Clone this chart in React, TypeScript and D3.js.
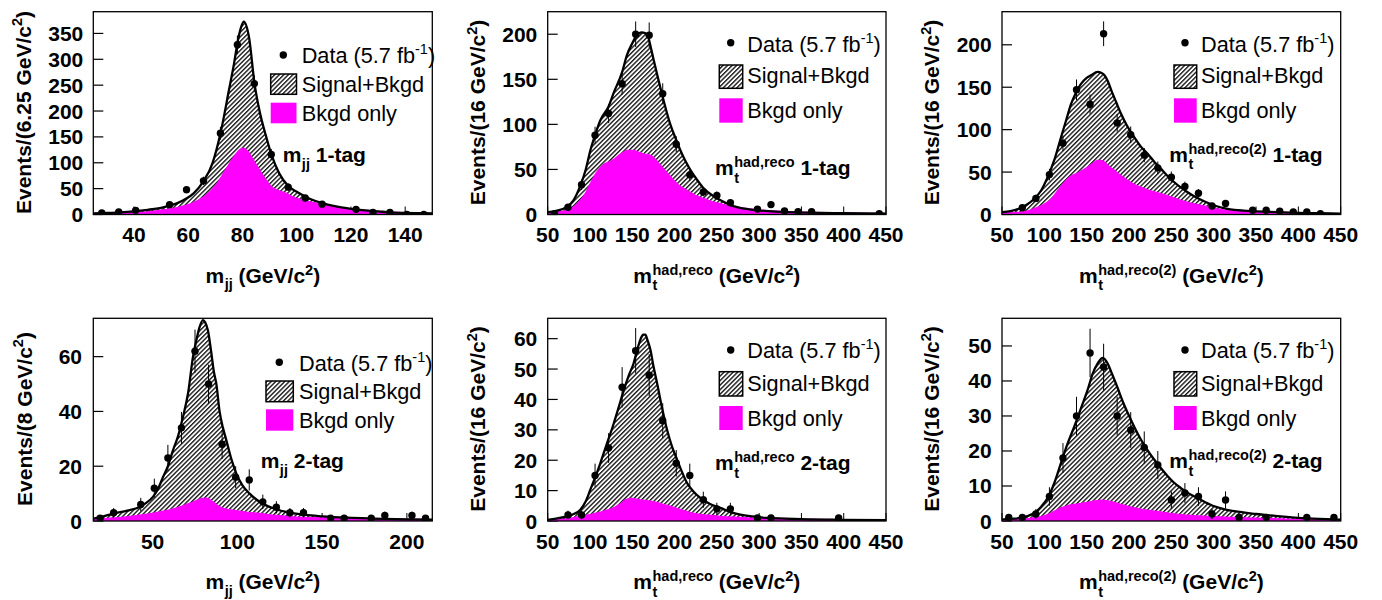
import React from 'react';
import * as d3 from 'd3';

const FONT = '"Liberation Sans", Arial, Helvetica, sans-serif';
const MAGENTA = '#ff00ff';

// ---------------- data: m_jj 1-tag ----------------
const mjj1BinCenters = [28.125, 34.375, 40.625, 53.125, 59.375, 65.625, 71.875, 78.125, 84.375, 90.625, 96.875, 103.125, 109.375, 121.875, 128.125, 134.375, 140.625, 146.875];
const mjj1Counts = [3, 5, 8, 19, 48, 65, 157, 328, 253, 116, 53, 32, 20, 10, 4, 4, 0, 0];
const mjj1FitTotal: [number, number][] = [[25, 2], [30, 3], [35, 4], [40, 6], [45, 9], [50, 13], [53, 17], [56, 22], [59, 30], [62, 41], [65.6, 64], [69, 100], [71.9, 157], [75, 240], [77, 295], [78.1, 330], [79.5, 362], [80.5, 373], [82.5, 340], [84.4, 255], [86.3, 200], [88.5, 155], [90.6, 117], [93.5, 80], [96.9, 55], [100, 44], [105, 30], [110, 21], [115, 15], [120, 11], [125, 8], [130, 6], [135, 4], [140, 3], [145, 2.5], [150, 2]];
const mjj1FitBkgd: [number, number][] = [[25, 1.5], [30, 2], [35, 2.5], [40, 3.5], [45, 5], [50, 8], [55, 12], [60, 19], [64, 28], [68, 44], [71, 62], [74, 88], [77, 112], [79, 125], [80.3, 128], [82, 122], [84, 105], [86, 88], [88.5, 68], [91, 52], [96, 41], [99, 33], [105, 24], [110, 18], [115, 13], [120, 10], [130, 6], [140, 3.5], [150, 2]];

// ---------------- data: m_t^{had,reco} 1-tag ----------------
const reco1BinCenters = [58, 74, 90, 106, 122, 138, 154, 170, 186, 202, 218, 234, 250, 266, 298, 314, 330, 346, 362, 442];
const reco1Counts = [1, 8, 33, 88, 112, 145, 200, 199, 134, 78, 44, 25, 21, 13, 6, 11, 4, 3, 3, 1];
const reco1FitTotal: [number, number][] = [[50, 2.5], [60, 4], [72, 8], [80, 15], [88.6, 32], [95, 50], [100.4, 71], [106, 88], [112, 104], [122, 120], [128, 135], [138, 158], [143.8, 177], [150, 190], [154, 197], [161.5, 202], [167.5, 200], [172, 185], [175.4, 171], [180, 153], [185, 134], [190, 116], [195, 100], [201, 85], [207, 71], [213, 59], [219, 49], [227, 38], [235, 28.5], [245, 21], [255, 15.5], [265, 11], [275, 8], [288, 5.8], [302, 4.4], [320, 3.2], [334, 2.6], [360, 2], [400, 1.5], [450, 1]];
const reco1FitBkgd: [number, number][] = [[50, 1.5], [60, 2.5], [72.9, 4.4], [80, 8], [88.6, 15.5], [95, 24], [100.4, 34], [106, 44], [112.2, 52], [117, 56], [122, 58], [128, 61], [132, 64], [138, 68], [143.8, 71], [151.7, 71], [157, 69], [163.5, 67], [170, 66], [175.4, 63], [181, 57], [187, 50.6], [193, 44], [199, 37.7], [207, 31], [215, 26.6], [225, 21], [235, 17.4], [245, 14], [255, 11.8], [270, 8.5], [286.5, 6.3], [305, 4.5], [326, 3.3], [350, 2.5], [400, 1.5], [450, 1]];

// ---------------- data: m_t^{had,reco(2)} 1-tag ----------------
const reco2a1BinCenters = [74, 90, 106, 122, 138, 154, 170, 186, 202, 218, 234, 250, 266, 282, 298, 314, 346, 362, 378, 394, 410, 426];
const reco2a1Counts = [8, 19, 47, 84, 147, 130, 213, 108, 94, 70, 55, 44, 33, 25, 10, 13, 5, 5, 4, 3, 3, 1];
const reco2a1FitTotal: [number, number][] = [[50, 2.7], [60, 4], [72.4, 7.9], [80, 12], [88.2, 18.5], [96, 28], [103.9, 44], [112, 65], [119.7, 91], [126, 112], [131.5, 130], [137, 143], [143.3, 154], [150, 161], [155, 164], [163, 168], [167, 167], [171, 164], [175, 157], [179, 146.6], [185, 132], [190.6, 118.7], [198, 104], [206.3, 91], [214, 80], [222, 71.5], [230, 62], [237.8, 53.8], [245, 46], [253.5, 38], [261, 32], [269.3, 26.3], [277, 21.5], [285, 17.3], [295, 13], [304.7, 9.4], [315, 7], [324.4, 5.5], [335, 4.6], [350, 3.8], [375, 2.8], [400, 2], [425, 1.5], [450, 1]];
const reco2a1FitBkgd: [number, number][] = [[50, 1.5], [60, 2], [72.4, 2.7], [80, 4], [88.2, 6.7], [96, 10], [103.9, 14.5], [110, 20], [115.7, 28], [122, 36], [127.6, 42], [133, 46], [139.4, 48.7], [145, 52], [151.2, 55.8], [157, 60], [163, 63.7], [167, 63.5], [171, 61.7], [176, 57], [182.7, 51.9], [190, 46], [198.5, 40], [206, 35.5], [214.3, 32], [225, 28], [237.8, 24.4], [250, 20.5], [261.4, 16.5], [273, 13.3], [285, 10.6], [300, 7.5], [316.5, 4.7], [335, 3.5], [350, 3], [375, 2.2], [400, 1.5], [450, 1]];

// ---------------- data: m_jj 2-tag ----------------
const mjj2BinCenters = [19, 27, 43, 51, 59, 67, 75, 83, 91, 99, 107, 115, 123, 131, 139, 155, 163, 179, 187, 203, 211];
const mjj2Counts = [1, 3, 6, 12, 23, 34, 62, 50, 28, 16, 15, 7, 5, 3, 3, 1, 1, 1, 2, 2, 1];
const mjj2FitTotal: [number, number][] = [[15, 0.85], [20, 1.5], [26.6, 2.7], [35, 3.8], [42.3, 5.1], [46, 6.5], [50.2, 8.8], [53, 11.5], [56.1, 16], [59, 20], [62, 25.8], [65, 31], [67.9, 38], [71, 47], [73.8, 59.9], [75.8, 66], [77.7, 70.8], [79.7, 73.3], [81, 72.5], [82.6, 69.6], [84.5, 62], [86, 55], [87.6, 50], [89.5, 40], [91.5, 34], [93.5, 29.5], [96.5, 22.5], [99.4, 17.3], [103, 13], [107.2, 10], [112, 7.5], [117, 5.7], [123, 4.3], [128.8, 3.3], [140, 2.2], [150, 1.7], [165, 1.2], [180, 0.9], [200, 0.6], [215, 0.5]];
const mjj2FitBkgd: [number, number][] = [[15, 0.5], [25, 1], [34.5, 1.5], [45, 2.3], [54.2, 3.3], [60, 4], [66, 5.1], [70, 6], [73.8, 6.9], [77, 7.8], [79.7, 8.2], [81.5, 8.3], [83.6, 7.8], [86, 6.8], [89.5, 5.1], [93, 4.4], [97.4, 3.9], [105, 3.2], [113, 2.7], [123, 2], [132.8, 1.5], [150, 1.1], [175, 0.8], [200, 0.6], [215, 0.5]];

// ---------------- data: m_t^{had,reco} 2-tag ----------------
const reco2BinCenters = [74, 90, 106, 122, 138, 154, 170, 186, 202, 218, 234, 250, 266, 298, 314, 394];
const reco2Counts = [2, 2, 15, 24, 44, 56, 48, 33, 19, 15, 7, 4, 4, 1, 1, 1];
const reco2FitTotal: [number, number][] = [[50, 0.4], [60, 0.8], [72.9, 1.5], [80, 2.2], [88.6, 3.7], [95, 6.5], [100.4, 10.3], [106, 14.3], [112.2, 19], [120, 25.5], [128, 32], [134, 37.5], [139.9, 43], [146, 48], [151.7, 52], [156, 56.5], [159.6, 59.7], [163, 61.3], [165.5, 61.3], [168, 59.5], [171.4, 56.4], [175, 51], [179.3, 45.4], [185, 37.5], [191.1, 30], [197, 24.5], [203, 20.2], [209, 16], [214.8, 12.5], [222, 9.8], [230.5, 7.6], [242, 5.6], [254.2, 4.3], [265, 3.1], [277.8, 2.1], [292, 1.5], [309.4, 1], [350, 0.6], [400, 0.4], [450, 0.3]];
const reco2FitBkgd: [number, number][] = [[50, 0.3], [60, 0.5], [72.9, 0.7], [88.6, 1.5], [100, 2.1], [108.3, 2.6], [118, 3.4], [128, 4.3], [136, 5.6], [143.8, 7.2], [150, 7.4], [155.6, 7.1], [163, 6.8], [171.4, 6.5], [180, 6], [187.2, 5.4], [197, 4.6], [207, 3.7], [216, 3], [226.6, 2.3], [240, 1.9], [254, 1.5], [270, 1.2], [285.7, 1], [320, 0.8], [350, 0.6], [400, 0.4], [450, 0.3]];

// ---------------- data: m_t^{had,reco(2)} 2-tag ----------------
const reco2a2BinCenters = [58, 74, 90, 106, 122, 138, 154, 170, 186, 202, 218, 234, 250, 266, 282, 298, 314, 330, 362, 410, 442];
const reco2a2Counts = [1, 1, 2, 7, 18, 30, 48, 44, 30, 26, 21, 16, 6, 8, 7, 2, 6, 1, 1, 1, 1];
const reco2a2FitTotal: [number, number][] = [[50, 0.4], [60, 0.6], [72.4, 0.9], [80, 1.4], [88.2, 2.3], [96, 4], [104, 6.6], [112, 11], [119.7, 16.6], [127, 21.8], [135.4, 27], [143, 32], [151.2, 37.5], [157, 42], [163, 45], [168.9, 46.6], [174.8, 45], [180, 42], [186.6, 38], [192, 34.5], [198.4, 30.9], [206, 27], [214.2, 23.2], [222, 20.2], [229.9, 17.5], [238, 15], [245.7, 12.8], [253, 11], [261.4, 9.4], [269, 8.1], [277.2, 7], [289, 5.5], [300.8, 4.2], [312, 3.4], [324.4, 2.8], [350, 2], [375, 1.4], [400, 0.9], [425, 0.6], [450, 0.4]];
const reco2a2FitBkgd: [number, number][] = [[50, 0.3], [60, 0.35], [72.4, 0.4], [88.2, 0.9], [104, 1.8], [112, 2.8], [119.7, 3.7], [127, 4.3], [135.4, 4.7], [143, 5], [151.2, 5.3], [160, 5.7], [167, 5.9], [175, 5.7], [182.7, 5.3], [194, 4.5], [206.3, 3.7], [218, 3.2], [229.9, 2.8], [245, 2.3], [261.4, 1.8], [277, 1.5], [292.9, 1.3], [320, 1], [350, 0.8], [400, 0.4], [450, 0.3]];

// ---------------- tick labels ----------------
const mjj1XTicks = [40, 60, 80, 100, 120, 140];
const mjj2XTicks = [50, 100, 150, 200];
const topXTicks = [50, 100, 150, 200, 250, 300, 350, 400, 450];
const mjj1YTicks = [0, 50, 100, 150, 200, 250, 300, 350];
const reco1YTicks = [0, 50, 100, 150, 200];
const mjj2YTicks = [0, 20, 40, 60];
const reco2YTicks = [0, 10, 20, 30, 40, 50, 60];
const reco2a2YTicks = [0, 10, 20, 30, 40, 50];

const legendLabels = { data: 'Data (5.7 fb', sig: 'Signal+Bkgd', bkg: 'Bkgd only' };

// ---------------- text measuring ----------------
let _ctx: CanvasRenderingContext2D | null = null;
function tw(s: string, size: number, bold = true): number {
  if (!_ctx) _ctx = document.createElement('canvas').getContext('2d');
  if (!_ctx) return s.length * size * 0.55;
  _ctx.font = `${bold ? 'bold ' : ''}${size}px "Liberation Sans", Arial, sans-serif`;
  return _ctx.measureText(s).width;
}

const BIG = 21;
const LEG = 21.7;
const SMALL = 14.5;

function massLabel(x: number, y: number, sub: string, sup: string | null, key: string) {
  const wm = tw('m', BIG);
  const els: React.ReactNode[] = [];
  els.push(<text key={key + 'm'} x={x} y={y} fontSize={BIG} fontWeight="bold">m</text>);
  let w2 = tw(sub, SMALL);
  const subDy = sup ? 7.5 : 6.5;
  els.push(<text key={key + 'sub'} x={x + wm + 0.5} y={y + subDy} fontSize={SMALL} fontWeight="bold">{sub}</text>);
  if (sup) {
    els.push(<text key={key + 'sup'} x={x + wm + 0.5} y={y - 8} fontSize={SMALL} fontWeight="bold">{sup}</text>);
    w2 = Math.max(w2, tw(sup, SMALL));
  }
  return { els, width: wm + 0.5 + w2 };
}

type Legend = { dotX: number; dotY: number; textX: number; b1: number; boxX: number; boxW: number; hY: number; hH: number; b2: number; pY: number; pH: number; b3: number };

type PanelCfg = {
  id: string;
  left: number; right: number; top: number; bottom: number;
  xDomain: [number, number]; yMax: number;
  xTicks: number[]; yTicks: number[];
  binCenters: number[]; counts: number[];
  fitTotal: [number, number][]; fitBkgd: [number, number][];
  bin: string; sub: string; sup: string | null; tag: string;
  tagX: number; tagY: number;
  legend: Legend;
  yTitleX: number; yTitleY: number; yLabRight: number;
  xLabBase: number; xTitleBase: number;
};

const ROWS = [{ top: 11.7, bottom: 214.5, yTitleY: 112.5, xLabBase: 241.7, xTitleBase: 282.7 }, { top: 318.3, bottom: 521, yTitleY: 419, xLabBase: 549, xTitleBase: 589 }];
const COLS = [{ left: 93.3, right: 432.3 }, { left: 547.7, right: 886 }, { left: 1002, right: 1340.7 }];

const panels: PanelCfg[] = [
  {
    id: 'p1', ...COLS[0], top: ROWS[0].top, bottom: ROWS[0].bottom, xDomain: [25, 150], yMax: 392,
    xTicks: mjj1XTicks, yTicks: mjj1YTicks, binCenters: mjj1BinCenters, counts: mjj1Counts,
    fitTotal: mjj1FitTotal, fitBkgd: mjj1FitBkgd, bin: '6.25', sub: 'jj', sup: null, tag: '1-tag',
    tagX: 282.7, tagY: 162.3,
    legend: { dotX: 283.3, dotY: 55, textX: 301.7, b1: 63.3, boxX: 270.7, boxW: 25.8, hY: 74, hH: 20.3, b2: 91.7, pY: 102.7, pH: 20.6, b3: 120.7 },
    yTitleX: 30.5, yTitleY: ROWS[0].yTitleY, yLabRight: 83.3, xLabBase: ROWS[0].xLabBase, xTitleBase: ROWS[0].xTitleBase,
  },
  {
    id: 'p2', ...COLS[1], top: ROWS[0].top, bottom: ROWS[0].bottom, xDomain: [50, 450], yMax: 225,
    xTicks: topXTicks, yTicks: reco1YTicks, binCenters: reco1BinCenters, counts: reco1Counts,
    fitTotal: reco1FitTotal, fitBkgd: reco1FitBkgd, bin: '16', sub: 't', sup: 'had,reco', tag: '1-tag',
    tagX: 715, tagY: 175,
    legend: { dotX: 730.7, dotY: 42.7, textX: 747.3, b1: 51.7, boxX: 719.3, boxW: 23.4, hY: 65, hH: 23.3, b2: 83.3, pY: 98.3, pH: 24.4, b3: 118.3 },
    yTitleX: 485, yTitleY: ROWS[0].yTitleY, yLabRight: 537.3, xLabBase: ROWS[0].xLabBase, xTitleBase: ROWS[0].xTitleBase,
  },
  {
    id: 'p3', ...COLS[2], top: ROWS[0].top, bottom: ROWS[0].bottom, xDomain: [50, 450], yMax: 239,
    xTicks: topXTicks, yTicks: reco1YTicks, binCenters: reco2a1BinCenters, counts: reco2a1Counts,
    fitTotal: reco2a1FitTotal, fitBkgd: reco2a1FitBkgd, bin: '16', sub: 't', sup: 'had,reco(2)', tag: '1-tag',
    tagX: 1169.3, tagY: 161.7,
    legend: { dotX: 1185, dotY: 42.7, textX: 1201, b1: 51.7, boxX: 1174, boxW: 22.7, hY: 65, hH: 23.3, b2: 83.3, pY: 98.3, pH: 24.4, b3: 118.3 },
    yTitleX: 939.3, yTitleY: ROWS[0].yTitleY, yLabRight: 991.7, xLabBase: ROWS[0].xLabBase, xTitleBase: ROWS[0].xTitleBase,
  },
  {
    id: 'p4', ...COLS[0], top: ROWS[1].top, bottom: ROWS[1].bottom, xDomain: [15, 215], yMax: 74,
    xTicks: mjj2XTicks, yTicks: mjj2YTicks, binCenters: mjj2BinCenters, counts: mjj2Counts,
    fitTotal: mjj2FitTotal, fitBkgd: mjj2FitBkgd, bin: '8', sub: 'jj', sup: null, tag: '2-tag',
    tagX: 260.7, tagY: 468.3,
    legend: { dotX: 279.3, dotY: 362.3, textX: 299, b1: 370.7, boxX: 266, boxW: 27.3, hY: 381, hH: 20.7, b2: 399, pY: 409.3, pH: 21.4, b3: 428.3 },
    yTitleX: 31.7, yTitleY: ROWS[1].yTitleY, yLabRight: 82, xLabBase: ROWS[1].xLabBase, xTitleBase: ROWS[1].xTitleBase,
  },
  {
    id: 'p5', ...COLS[1], top: ROWS[1].top, bottom: ROWS[1].bottom, xDomain: [50, 450], yMax: 66.7,
    xTicks: topXTicks, yTicks: reco2YTicks, binCenters: reco2BinCenters, counts: reco2Counts,
    fitTotal: reco2FitTotal, fitBkgd: reco2FitBkgd, bin: '16', sub: 't', sup: 'had,reco', tag: '2-tag',
    tagX: 715, tagY: 470,
    legend: { dotX: 730.7, dotY: 350, textX: 747.3, b1: 358.3, boxX: 719.3, boxW: 23.4, hY: 371.7, hH: 24.3, b2: 390.7, pY: 406, pH: 24, b3: 425.7 },
    yTitleX: 485, yTitleY: ROWS[1].yTitleY, yLabRight: 537.3, xLabBase: ROWS[1].xLabBase, xTitleBase: ROWS[1].xTitleBase,
  },
  {
    id: 'p6', ...COLS[2], top: ROWS[1].top, bottom: ROWS[1].bottom, xDomain: [50, 450], yMax: 57.9,
    xTicks: topXTicks, yTicks: reco2a2YTicks, binCenters: reco2a2BinCenters, counts: reco2a2Counts,
    fitTotal: reco2a2FitTotal, fitBkgd: reco2a2FitBkgd, bin: '16', sub: 't', sup: 'had,reco(2)', tag: '2-tag',
    tagX: 1169.3, tagY: 468.3,
    legend: { dotX: 1185, dotY: 350, textX: 1201, b1: 358.3, boxX: 1174, boxW: 22.7, hY: 371.7, hH: 24.3, b2: 390.7, pY: 406, pH: 24, b3: 425.7 },
    yTitleX: 939.3, yTitleY: ROWS[1].yTitleY, yLabRight: 991.7, xLabBase: ROWS[1].xLabBase, xTitleBase: ROWS[1].xTitleBase,
  },
];

function Panel({ p }: { p: PanelCfg }) {
  const x = d3.scaleLinear().domain(p.xDomain).range([p.left, p.right]);
  const y = d3.scaleLinear().domain([0, p.yMax]).range([p.bottom, p.top]);
  const areaT = d3.area<[number, number]>().x(d => x(d[0])).y0(y(0)).y1(d => y(d[1])).curve(d3.curveMonotoneX);
  const lineT = d3.line<[number, number]>().x(d => x(d[0])).y(d => y(d[1])).curve(d3.curveMonotoneX);
  const clipId = 'clip-' + p.id;

  const xt = (() => {
    const s1 = ' (GeV/c';
    const m = massLabel(0, 0, p.sub, p.sup, 'tmp');
    const w = m.width + tw(s1, BIG) + tw('2', SMALL) + tw(')', BIG);
    const cx = (p.left + p.right) / 2;
    const x0 = cx - w / 2;
    const ml = massLabel(x0, p.xTitleBase, p.sub, p.sup, p.id + 'xt');
    const x1 = x0 + ml.width;
    const x2 = x1 + tw(s1, BIG);
    const x3 = x2 + tw('2', SMALL);
    return (
      <g>
        {ml.els}
        <text x={x1} y={p.xTitleBase} fontSize={BIG} fontWeight="bold" style={{ whiteSpace: 'pre' }}>{s1}</text>
        <text x={x2} y={p.xTitleBase - 8} fontSize={SMALL} fontWeight="bold">2</text>
        <text x={x3} y={p.xTitleBase} fontSize={BIG} fontWeight="bold">)</text>
      </g>
    );
  })();

  const tagL = massLabel(p.tagX, p.tagY, p.sub, p.sup, p.id + 'tag');
  const L = p.legend;

  return (
    <g>
      <defs>
        <clipPath id={clipId}>
          <rect x={p.left} y={p.top} width={p.right - p.left} height={p.bottom - p.top} />
        </clipPath>
      </defs>
      {p.xTicks.map(t => (
        <line key={'xt' + t} x1={x(t)} x2={x(t)} y1={p.bottom} y2={p.bottom - 8} stroke="#000" strokeWidth={1} />
      ))}
      {p.yTicks.map(t => (
        <line key={'yt' + t} x1={p.left} x2={p.left + 10} y1={y(t)} y2={y(t)} stroke="#000" strokeWidth={1.2} />
      ))}
      <g clipPath={`url(#${clipId})`}>
        <path d={areaT(p.fitTotal) || ''} fill="url(#hatch)" />
        <path d={areaT(p.fitBkgd) || ''} fill={MAGENTA} stroke={MAGENTA} strokeWidth={1.5} />
        <path d={lineT(p.fitTotal) || ''} fill="none" stroke="#000" strokeWidth={2.3} />
        {p.binCenters.map((c, i) => {
          const n = p.counts[i];
          const e = Math.sqrt(n);
          return (
            <g key={'d' + i}>
              {n > 0 && <line x1={x(c)} x2={x(c)} y1={y(n - e)} y2={y(n + e)} stroke="#000" strokeWidth={1} />}
              <circle cx={x(c)} cy={y(n)} r={3.7} fill="#000" />
            </g>
          );
        })}
      </g>
      <rect x={p.left} y={p.top} width={p.right - p.left} height={p.bottom - p.top} fill="none" stroke="#000" strokeWidth={1.3} />

      {p.yTicks.map(t => (
        <text key={'yl' + t} x={p.yLabRight} y={y(t) + 7.5} textAnchor="end" fontSize={BIG} fontWeight="bold">{t}</text>
      ))}
      {p.xTicks.map(t => (
        <text key={'xl' + t} x={x(t)} y={p.xLabBase} textAnchor="middle" fontSize={BIG} fontWeight="bold">{t}</text>
      ))}

      <text transform={`translate(${p.yTitleX},${p.yTitleY}) rotate(-90)`} textAnchor="middle" fontSize={BIG} fontWeight="bold">
        {`Events/(${p.bin} GeV/c`}
        <tspan fontSize={SMALL} dy={-8.5}>2</tspan>
        <tspan dy={8.5} fontSize={BIG}>)</tspan>
      </text>

      {xt}

      <circle cx={L.dotX} cy={L.dotY} r={3.7} fill="#000" />
      <text x={L.textX} y={L.b1} fontSize={LEG}>
        {legendLabels.data}
        <tspan fontSize={SMALL} dy={-9}>-1</tspan>
        <tspan fontSize={LEG} dy={9}>)</tspan>
      </text>
      <rect x={L.boxX} y={L.hY} width={L.boxW} height={L.hH} fill="url(#hatch)" stroke="#000" strokeWidth={1.5} />
      <text x={L.textX} y={L.b2} fontSize={LEG}>{legendLabels.sig}</text>
      <rect x={L.boxX} y={L.pY} width={L.boxW} height={L.pH} fill={MAGENTA} />
      <text x={L.textX} y={L.b3} fontSize={LEG}>{legendLabels.bkg}</text>

      {tagL.els}
      <text x={p.tagX + tagL.width + tw(' ', BIG)} y={p.tagY} fontSize={BIG} fontWeight="bold">{p.tag}</text>
    </g>
  );
}

export default function App() {
  return (
    <div style={{ position: 'absolute', left: 0, top: 0 }}>
      <svg width={1382} height={600} style={{ display: 'block', background: '#fff' }} fontFamily={FONT}>
        <defs>
          <pattern id="hatch" patternUnits="userSpaceOnUse" width={3.2} height={3.2} patternTransform="rotate(45)">
            <rect width={3.2} height={3.2} fill="#fff" />
            <rect width={1.4} height={3.2} fill="#1a1a1a" />
          </pattern>
        </defs>
        <rect width={1382} height={600} fill="#fff" />
        {panels.map(p => <Panel key={p.id} p={p} />)}
      </svg>
    </div>
  );
}
